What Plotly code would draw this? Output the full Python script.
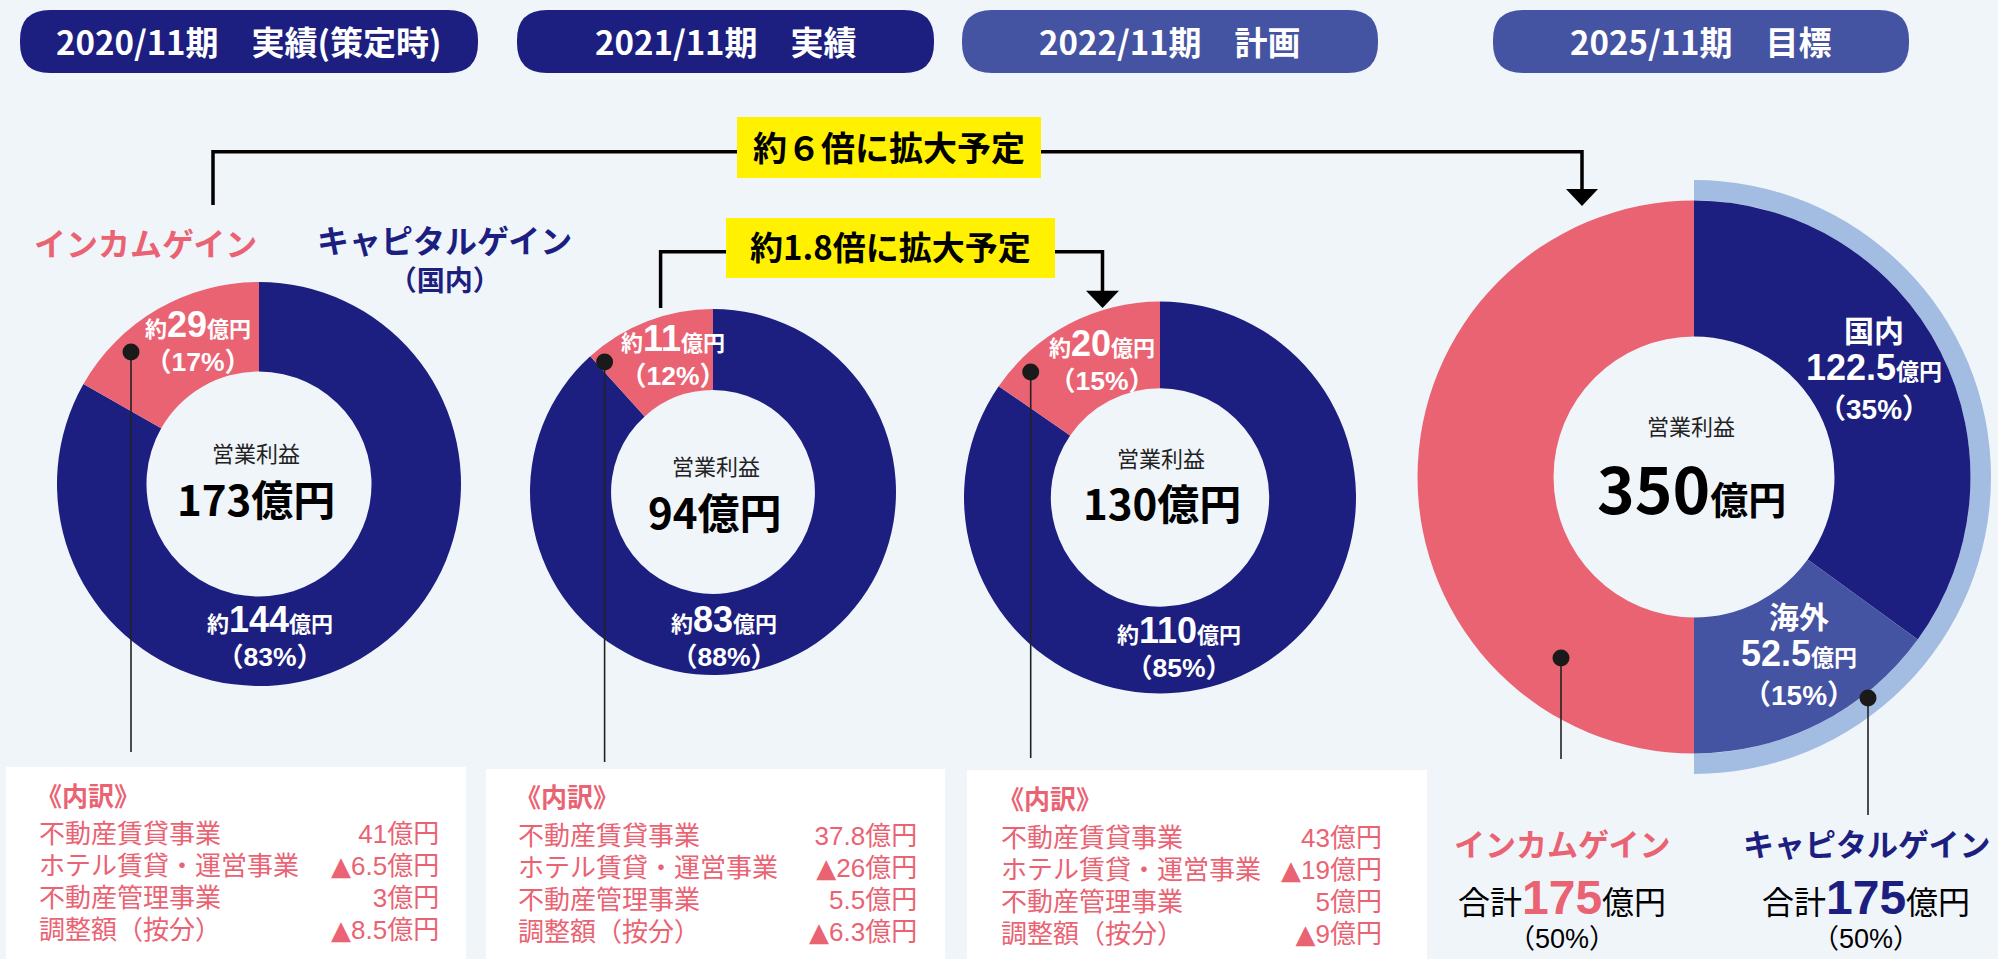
import plotly.graph_objects as go

# ---------------- data ----------------
periods = ["2020/11期　実績(策定時)", "2021/11期　実績", "2022/11期　計画", "2025/11期　目標"]
totals = [173, 94, 130]                 # 営業利益 (億円)
income = [29, 11, 20]                   # インカムゲイン
capital = [144, 83, 110]                # キャピタルゲイン(国内)
income_pct = [17, 12, 15]
capital_pct = [83, 88, 85]

target_total = 350
target_labels = ["国内", "海外", "インカムゲイン"]
target_values = [122.5, 52.5, 175]
target_pct = [35, 15, 50]
capital_total = 175
income_total = 175

growth_labels = ["約６倍に拡大予定", "約1.8倍に拡大予定"]

breakdown_items = ["不動産賃貸事業", "ホテル賃貸・運営事業", "不動産管理事業", "調整額（按分）"]
breakdown_values = [
    [41, -6.5, 3, -8.5],
    [37.8, -26, 5.5, -6.3],
    [43, -19, 5, -9],
]

# ---------------- style ----------------
W, H = 1998, 959
BG = "#F0F5FA"
NAVY = "#1D1F80"
MID = "#4553A3"
PINK = "#EA6373"
RING = "#A3BCE2"
YELLOW = "#FFF100"
FONT = "Noto Sans CJK JP"
FONT2 = "Liberation Sans, Noto Sans CJK JP"   # compact line boxes for stacked labels

fig = go.Figure()

def dom(cx, cy, r):
    return dict(x=[(cx - r) / W, (cx + r) / W], y=[1 - (cy + r) / H, 1 - (cy - r) / H])

# small donuts
donut_geo = [(259, 484, 202), (713, 492, 183), (1160, 497.5, 196)]
for i, (cx, cy, r) in enumerate(donut_geo):
    fig.add_trace(go.Pie(values=[capital[i], income[i]], labels=["キャピタルゲイン", "インカムゲイン"],
                         marker=dict(colors=[NAVY, PINK], line=dict(width=0)),
                         hole=0.557, sort=False, direction="clockwise", rotation=0,
                         textinfo="none", hoverinfo="skip", showlegend=False,
                         domain=dom(cx, cy, r)))

# big donut with outer ring
bcx, bcy, bR, ringR = 1694, 477, 276.5, 297
fig.add_trace(go.Pie(values=[capital_total, income_total], labels=["ring", "none"],
                     marker=dict(colors=[RING, "rgba(0,0,0,0)"], line=dict(width=0)),
                     hole=bR / ringR, sort=False, direction="clockwise", rotation=0,
                     textinfo="none", hoverinfo="skip", showlegend=False,
                     domain=dom(bcx, bcy, ringR)))
fig.add_trace(go.Pie(values=target_values, labels=target_labels,
                     marker=dict(colors=[NAVY, MID, PINK], line=dict(width=0)),
                     hole=0.508, sort=False, direction="clockwise", rotation=0,
                     textinfo="none", hoverinfo="skip", showlegend=False,
                     domain=dom(bcx, bcy, bR)))

shapes = []

def rrect(x0, y0, x1, y1, r):
    return (f"M{x0+r},{y0} L{x1-r},{y0} Q{x1},{y0} {x1},{y0+r} L{x1},{y1-r} Q{x1},{y1} {x1-r},{y1} "
            f"L{x0+r},{y1} Q{x0},{y1} {x0},{y1-r} L{x0},{y0+r} Q{x0},{y0} {x0+r},{y0} Z")

# header pills
pills = [(20, 10, 478, 73), (517, 10, 934, 73), (962, 10, 1378, 73), (1493, 10, 1909, 73)]
pill_cols = [NAVY, NAVY, MID, MID]
for (x0, y0, x1, y1), c in zip(pills, pill_cols):
    shapes.append(dict(type="path", path=rrect(x0, y0, x1, y1, 30), fillcolor=c, line=dict(width=0), layer="below"))

# breakdown boxes
boxes = [(6, 767, 466, 960), (486, 769, 945, 960), (967, 770, 1427, 960)]
for x0, y0, x1, y1 in boxes:
    shapes.append(dict(type="rect", x0=x0, y0=y0, x1=x1, y1=y1, fillcolor="white", line=dict(width=0), layer="below"))

# connectors
LW = 3.5
shapes.append(dict(type="path", path="M213,205 L213,151.7 L1582,151.7 L1582,190", line=dict(color="black", width=LW), layer="below"))
shapes.append(dict(type="path", path="M1566,189 L1598,189 L1582,206 Z", fillcolor="black", line=dict(width=0), layer="below"))
shapes.append(dict(type="path", path="M660.6,308 L660.6,251.7 L1102.5,251.7 L1102.5,292", line=dict(color="black", width=LW), layer="below"))
shapes.append(dict(type="path", path="M1086,290.7 L1119,290.7 L1102.5,308 Z", fillcolor="black", line=dict(width=0), layer="below"))
yboxes = [(737, 117, 1041, 178), (726, 218, 1055, 278)]
for x0, y0, x1, y1 in yboxes:
    shapes.append(dict(type="rect", x0=x0, y0=y0, x1=x1, y1=y1, fillcolor=YELLOW, line=dict(width=0), layer="below"))

# leader lines and dots
leaders = [(131, 352, 752), (604.6, 362, 762), (1030.7, 372, 758), (1561, 658, 759), (1868, 698, 815)]
for x, y, yend in leaders:
    shapes.append(dict(type="line", x0=x, y0=y, x1=x, y1=yend, line=dict(color="#222222", width=1.6), layer="above"))
    shapes.append(dict(type="circle", x0=x - 8.5, y0=y - 8.5, x1=x + 8.5, y1=y + 8.5, fillcolor="#1a1a1a", line=dict(width=0), layer="above"))

def txt(x, y, s, size, color, bold=False, xanchor="center", align="center", yanchor="middle", family=FONT):
    fig.add_annotation(x=x, y=y, xref="x", yref="y", text=s, showarrow=False,
                       xanchor=xanchor, yanchor=yanchor, align=align, borderpad=0,
                       font=dict(family=family, size=size, color=color, weight="bold" if bold else "normal"))

def sp(s, size, color=None, family=None):
    st = f"font-size:{size}px" + (f";color:{color}" if color else "") + (f";font-family:{family}" if family else "")
    return f'<span style="{st}">{s}</span>'

# header text
for (x0, y0, x1, y1), p in zip(pills, periods):
    txt((x0 + x1) / 2, 41, p, 33, "white", True)

# growth labels
txt(889, 146, growth_labels[0], 34, "black", True)
txt(890, 246, growth_labels[1], 33, "black", True)

# top-left legend labels
txt(145, 242, "インカムゲイン", 32, PINK, True)
txt(444, 260, sp("キャピタルゲイン", 32) + "<br>" + sp("（国内）", 28), 29.5, NAVY, True, family=FONT2)

def money(v, small=22, big=36, prefix="約"):
    return sp(prefix, small) + sp(f"{v:g}", big) + sp("億円", small)

inc_pos = [(198, 340.5), (673, 354.5), (1102, 359.5)]
cap_pos = [(270, 635.5), (724, 635.5), (1179, 646.5)]
ctr_pos = [((256, 452), (256, 497)), ((715.6, 465), (715, 510)), ((1161, 457), (1162, 501))]
for i in range(3):
    x, y = inc_pos[i]
    txt(x, y, money(income[i]) + "<br>" + f"（{income_pct[i]}%）", 26.5, "white", True, family=FONT2)
    x, y = cap_pos[i]
    txt(x, y, money(capital[i]) + "<br>" + f"（{capital_pct[i]}%）", 26.5, "white", True, family=FONT2)
    (a, b), (c, d) = ctr_pos[i]
    txt(a, b, "営業利益", 22, "#222222")
    txt(c, d, f"{totals[i]}億円", 42, "black", True)

# big donut texts
txt(1691, 425, "営業利益", 22, "#222222")
txt(1691, 486, f'{target_total}' + sp("億円", 38), 64, "black", True)
txt(1874, 369.7, sp(target_labels[0], 30) + "<br>" + sp(f"{target_values[0]:g}", 36) + sp("億円", 23)
    + "<br>" + sp(f"（{target_pct[0]}%）", 28), 29.5, "white", True, family=FONT2)
txt(1799, 655.7, sp(target_labels[1], 30) + "<br>" + sp(f"{target_values[1]:g}", 36) + sp("億円", 23)
    + "<br>" + sp(f"（{target_pct[1]}%）", 28), 29.5, "white", True, family=FONT2)

# bottom-right totals
for cx, name, col, val, pct in [(1562, "インカムゲイン", PINK, income_total, target_pct[2]),
                                 (1866, "キャピタルゲイン", NAVY, capital_total, target_pct[0] + target_pct[1])]:
    txt(cx, 845.8, name, 31, col, True, family=FONT2)
    txt(cx, 897, "合計" + f"<b>{sp(val, 48, col)}</b>" + "億円", 32, "black", family=FONT2)
    txt(cx, 955, f"（{pct}%）", 27, "black", yanchor="bottom", family=FONT2)

# breakdown texts
def fmt(v):
    if v < 0:
        return sp("▲", 26, family="DejaVu Sans") + sp(f"{abs(v):g}億円", 26)
    return sp(f"{v:g}億円", 26)

box_text = [(38, 440, 0), (517, 918, 1.5), (1000, 1383, 3.5)]
for bi, (lx, rx, dy) in enumerate(box_text):
    txt(lx - 3, 794 + dy, "《内訳》", 26, PINK, True, xanchor="left")
    left = "<br>".join(sp(it, 26) for it in breakdown_items)
    right = "<br>".join(fmt(v) for v in breakdown_values[bi])
    txt(lx, 882.3 + dy, left, 24.6, PINK, xanchor="left", align="left", family=FONT2)
    txt(rx, 882.3 + dy, right, 24.6, PINK, xanchor="right", align="right", family=FONT2)

fig.update_layout(
    width=W, height=H, margin=dict(l=0, r=0, t=0, b=0),
    paper_bgcolor=BG, plot_bgcolor=BG, shapes=shapes, showlegend=False,
    xaxis=dict(range=[0, W], visible=False, fixedrange=True, domain=[0, 1]),
    yaxis=dict(range=[H, 0], visible=False, fixedrange=True, domain=[0, 1]),
)

fig.write_html("out.html", config={"displayModeBar": False},
               post_script="document.body.style.margin='0';document.body.style.overflow='hidden';")
